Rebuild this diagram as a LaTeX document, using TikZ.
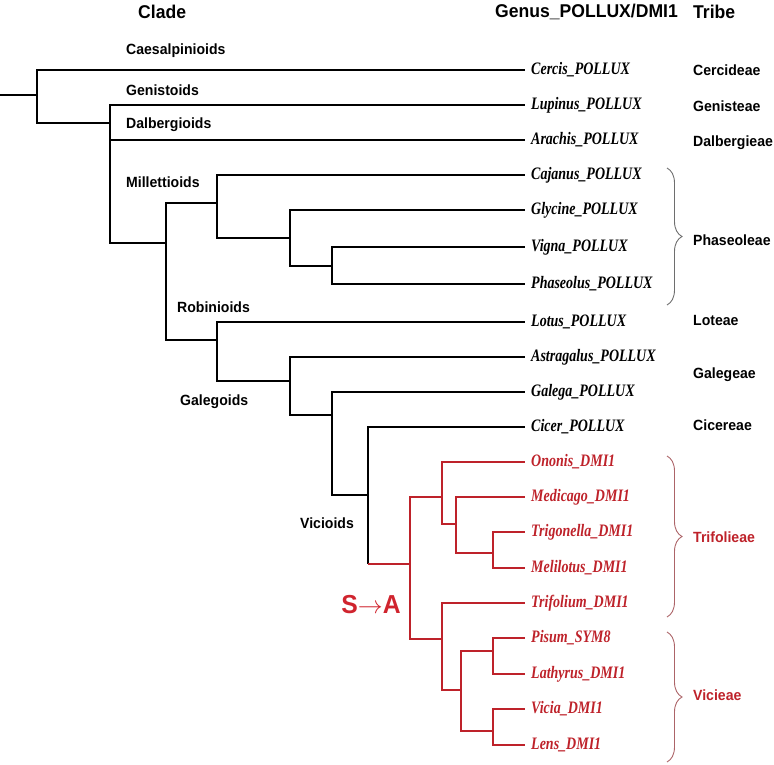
\documentclass[tikz,border=0pt]{standalone}
\usepackage{fontspec}
\setmainfont{Liberation Serif}
\setsansfont{Liberation Sans}
\newfontfamily\tipfont{Liberation Serif}[FakeStretch=0.8]
\newfontfamily\cladefont{Liberation Sans}[FakeStretch=0.95]
\usepackage{tikz}
\usetikzlibrary{decorations.pathreplacing}

\begin{document}
\begin{tikzpicture}[x=1pt, y=-1pt,
  branch/.style={line width=2.6pt},
  redbranch/.style={line width=2.2pt, draw=dmired},
  tiplab/.style={anchor=west, inner xsep=6pt, inner ysep=1pt,
    font=\tipfont\bfseries\itshape\fontsize{17.5}{17.5}\selectfont},
  cladelab/.style={anchor=west, inner sep=0pt,
    font=\cladefont\bfseries\fontsize{14.8}{14.8}\selectfont},
  headlab/.style={anchor=west, inner sep=0pt,
    font=\cladefont\bfseries\fontsize{18.5}{18.5}\selectfont},
  tribebrace/.style={decorate, decoration={brace, amplitude=15pt}, line width=0.9pt}]
  \definecolor{dmired}{RGB}{190,34,42}
  \definecolor{shiftred}{RGB}{208,36,46}
  \definecolor{bracered}{RGB}{172,100,104}
  \definecolor{bracegray}{RGB}{110,110,110}
  \useasboundingbox (0,0) rectangle (774,765);
  % --- headers ---
  \node[headlab] (hclade) at (138,12) {Clade};
  \node[headlab] (hgenus) at (495,12) {Genus\_POLLUX/DMI1};
  \node[headlab] (htribe) at (693,12) {Tribe};
  % --- internal nodes ---
  \coordinate (stub) at (0,95);
  \coordinate (r0)  at (37,95);
  \coordinate (n1)  at (110,123);
  \coordinate (n2)  at (166,243);
  \coordinate (n3)  at (217,203);
  \coordinate (n4)  at (290,238);
  \coordinate (n5)  at (332,266);
  \coordinate (n7)  at (217,340);
  \coordinate (n8)  at (290,381);
  \coordinate (n9)  at (332,415);
  \coordinate (n10) at (368,495);
  \coordinate (n10b) at (368,564);
  \coordinate (n11) at (410,564);
  \coordinate (n12) at (442,497);
  \coordinate (n13) at (456,524);
  \coordinate (n14) at (493,553);
  \coordinate (n16) at (442,639);
  \coordinate (n17) at (461,690);
  \coordinate (n18) at (493,651);
  \coordinate (n19) at (493,731);
  % --- tips (POLLUX) ---
  \node[tiplab] (cercis)     at (525,70)  {Cercis\_POLLUX};
  \node[tiplab] (lupinus)    at (525,105) {Lupinus\_POLLUX};
  \node[tiplab] (arachis)    at (525,140) {Arachis\_POLLUX};
  \node[tiplab] (cajanus)    at (525,175) {Cajanus\_POLLUX};
  \node[tiplab] (glycine)    at (525,210) {Glycine\_POLLUX};
  \node[tiplab] (vigna)      at (525,247) {Vigna\_POLLUX};
  \node[tiplab] (phaseolus)  at (525,284) {Phaseolus\_POLLUX};
  \node[tiplab] (lotus)      at (525,322) {Lotus\_POLLUX};
  \node[tiplab] (astragalus) at (525,357) {Astragalus\_POLLUX};
  \node[tiplab] (galega)     at (525,392) {Galega\_POLLUX};
  \node[tiplab] (cicer)      at (525,427) {Cicer\_POLLUX};
  % --- tips (DMI1) ---
  \node[tiplab, text=dmired] (ononis)     at (525,462) {Ononis\_DMI1};
  \node[tiplab, text=dmired] (medicago)   at (525,497) {Medicago\_DMI1};
  \node[tiplab, text=dmired] (trigonella) at (525,532) {Trigonella\_DMI1};
  \node[tiplab, text=dmired] (melilotus)  at (525,568) {Melilotus\_DMI1};
  \node[tiplab, text=dmired] (trifolium)  at (525,603) {Trifolium\_DMI1};
  \node[tiplab, text=dmired] (pisum)      at (525,638) {Pisum\_SYM8};
  \node[tiplab, text=dmired] (lathyrus)   at (525,674) {Lathyrus\_DMI1};
  \node[tiplab, text=dmired] (vicia)      at (525,709) {Vicia\_DMI1};
  \node[tiplab, text=dmired] (lens)       at (525,745) {Lens\_DMI1};
  % --- black branches ---
  \draw[branch] (stub) -- (r0);
  \draw[branch] (r0) |- (cercis.west);
  \draw[branch] (r0) |- (n1);
  \draw[branch] (n1) |- (lupinus.west);
  \draw[branch] (n1) |- (arachis.west);
  \draw[branch] (n1) |- (n2);
  \draw[branch] (n2) |- (n3);
  \draw[branch] (n2) |- (n7);
  \draw[branch] (n3) |- (cajanus.west);
  \draw[branch] (n3) |- (n4);
  \draw[branch] (n4) |- (glycine.west);
  \draw[branch] (n4) |- (n5);
  \draw[branch] (n5) |- (vigna.west);
  \draw[branch] (n5) |- (phaseolus.west);
  \draw[branch] (n7) |- (lotus.west);
  \draw[branch] (n7) |- (n8);
  \draw[branch] (n8) |- (astragalus.west);
  \draw[branch] (n8) |- (n9);
  \draw[branch] (n9) |- (galega.west);
  \draw[branch] (n9) |- (n10);
  \draw[branch] (n10) |- (cicer.west);
  \draw[branch] (n10) -- (n10b);
  % --- red branches (S->A) ---
  \draw[redbranch] (n10b) -- (n11);
  \draw[redbranch] (n11) |- (n12);
  \draw[redbranch] (n11) |- (n16);
  \draw[redbranch] (n12) |- (ononis.west);
  \draw[redbranch] (n12) |- (n13);
  \draw[redbranch] (n13) |- (medicago.west);
  \draw[redbranch] (n13) |- (n14);
  \draw[redbranch] (n14) |- (trigonella.west);
  \draw[redbranch] (n14) |- (melilotus.west);
  \draw[redbranch] (n16) |- (trifolium.west);
  \draw[redbranch] (n16) |- (n17);
  \draw[redbranch] (n17) |- (n18);
  \draw[redbranch] (n17) |- (n19);
  \draw[redbranch] (n18) |- (pisum.west);
  \draw[redbranch] (n18) |- (lathyrus.west);
  \draw[redbranch] (n19) |- (vicia.west);
  \draw[redbranch] (n19) |- (lens.west);
  % --- clade labels ---
  \node[cladelab] (caesal) at (126,51)  {Caesalpinioids};
  \node[cladelab] (genist) at (126,90)  {Genistoids};
  \node[cladelab] (dalber) at (126,125) {Dalbergioids};
  \node[cladelab] (millet) at (126,182) {Millettioids};
  \node[cladelab] (robin)  at (177,307) {Robinioids};
  \node[cladelab] (galeg)  at (180,402) {Galegoids};
  \node[cladelab] (vicio)  at (300,523) {Vicioids};
  \node[text=shiftred, inner sep=0pt,
    font=\cladefont\bfseries\fontsize{26}{26}\selectfont] (shift) at (371,605)
    {S{\fontsize{23}{23}\selectfont$\rightarrow$}A};
  % --- tribes ---
  \node[cladelab] (cercid) at (693,70)  {Cercideae};
  \node[cladelab] (genisteae) at (693,106) {Genisteae};
  \node[cladelab] (dalbergieae) at (693,143) {Dalbergieae};
  \node[cladelab] (phaseoleae) at (693,240) {Phaseoleae};
  \node[cladelab] (loteae) at (693,320) {Loteae};
  \node[cladelab] (galegeae) at (693,375) {Galegeae};
  \node[cladelab] (cicereae) at (693,425) {Cicereae};
  \node[cladelab, text=dmired] (trifolieae) at (693,537) {Trifolieae};
  \node[cladelab, text=dmired] (vicieae) at (693,695) {Vicieae};
  % braces
  \draw[tribebrace, bracegray] (667,168) -- (667,305);
  \draw[tribebrace, bracered] (667,456) -- (667,617);
  \draw[tribebrace, bracered] (667,632) -- (667,762);
\end{tikzpicture}
\end{document}
